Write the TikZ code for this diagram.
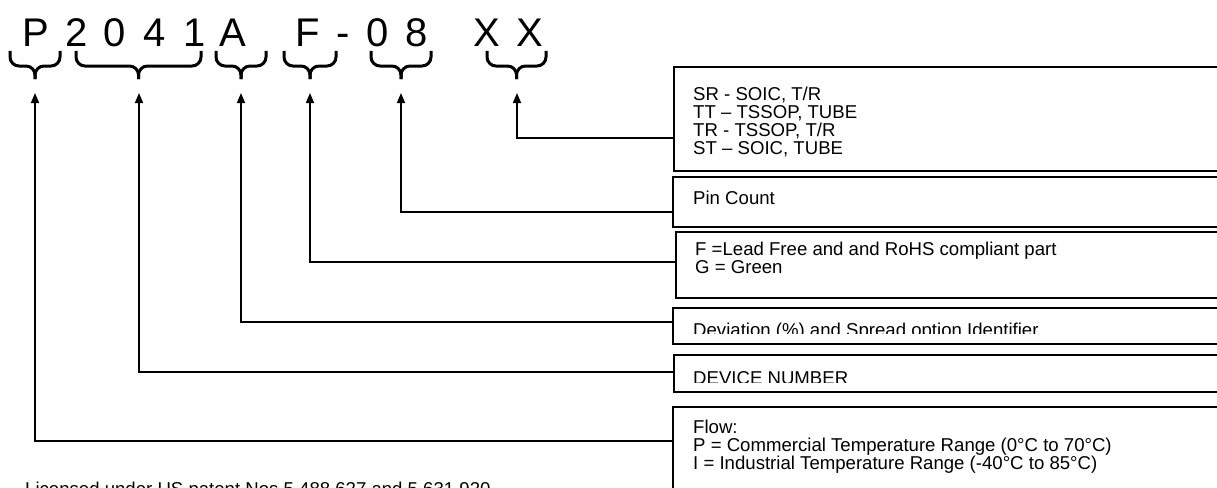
\documentclass[tikz,border=0pt]{standalone}
\usepackage{fontspec}
\setmainfont{Liberation Sans}
\usetikzlibrary{arrows.meta}
\tikzset{
  boxnode/.style={draw, line width=1.8pt, anchor=north west, minimum width=600pt, inner sep=0pt},
  conn/.style={line width=1.6pt, -{Triangle[length=10pt,width=8pt]}},
  bracestyle/.style={line width=3pt, rounded corners=9pt},
  boxtxt/.style={anchor=base west, inner sep=0pt, font=\fontsize{18.6}{22}\selectfont},
  titlechar/.style={anchor=base, inner sep=0pt, font=\fontsize{40}{48}\selectfont}
}
\newcommand\mybrace[2]{%
  \draw[bracestyle] (#1,51) -- (#1,66) -- ({(#1+#2)/2},66) -- ({(#1+#2)/2},79);
  \draw[bracestyle] (#2,51) -- (#2,66) -- ({(#1+#2)/2},66) -- ({(#1+#2)/2},79);}
\begin{document}
\begin{tikzpicture}[x=1pt,y=-1pt]
\useasboundingbox (0,0) rectangle (1217,487);
\clip (0,0) rectangle (1217,487);
% title characters
\node[titlechar] (cP) at (36,47) {P};
\node[titlechar] (c2) at (77,47) {2};
\node[titlechar] (c0) at (115,47) {0};
\node[titlechar] (c4) at (155,47) {4};
\node[titlechar] (c1) at (195,47) {1};
\node[titlechar] (cA) at (233,47) {A};
\node[titlechar] (cF) at (308,47) {F};
\node[titlechar] (cH) at (343,47) {-};
\node[titlechar] (cz) at (378,47) {0};
\node[titlechar] (c8) at (417,47) {8};
\node[titlechar] (cX) at (487,47) {X};
\node[titlechar] (cY) at (530,47) {X};
% braces
\mybrace{10}{60}
\mybrace{76}{201}
\mybrace{216}{266}
\mybrace{284}{336}
\mybrace{371}{431}
\mybrace{487}{546}
% boxes
\node[boxnode, minimum height=104pt] (b1) at (673,66) {};
\node[boxnode, minimum height=50pt] (b2) at (672,176) {};
\node[boxnode, minimum height=66pt] (b3) at (675,231) {};
\node[boxnode, minimum height=36pt] (b4) at (672,307) {};
\node[boxnode, minimum height=37pt] (b5) at (673,354) {};
\node[boxnode, minimum height=120pt] (b6) at (672,406) {};
% box texts
\node[boxtxt] (t11) at (693,100) {SR - SOIC, T/R};
\node[boxtxt] (t12) at (693,118) {TT – TSSOP, TUBE};
\node[boxtxt] (t13) at (693,136) {TR - TSSOP, T/R};
\node[boxtxt] (t14) at (693,154) {ST – SOIC, TUBE};
\node[boxtxt] (t21) at (693,204) {Pin Count};
\node[boxtxt] (t31) at (695,255) {F =Lead Free and and RoHS compliant part};
\node[boxtxt] (t32) at (695,273) {G = Green};
\begin{scope}
\clip (680,310) rectangle (1217,333);
\node[boxtxt] (t41) at (693,336) {Deviation (\%) and Spread option Identifier};
\end{scope}
\begin{scope}
\clip (680,357) rectangle (1217,382);
\node[boxtxt] (t51) at (693,384.5) {DEVICE NUMBER};
\end{scope}
\node[boxtxt] (t61) at (693,433) {Flow:};
\node[boxtxt] (t62) at (693,451) {P = Commercial Temperature Range (0°C to 70°C)};
\node[boxtxt] (t63) at (693,469) {I = Industrial Temperature Range (-40°C to 85°C)};
\node[boxtxt] (lic) at (25,495) {Licensed under US patent Nos 5,488,627 and 5,631,920};
% connectors
\coordinate (a1) at (517,93);
\coordinate (a2) at (401,93);
\coordinate (a3) at (310,93);
\coordinate (a4) at (241,93);
\coordinate (a5) at (139,93);
\coordinate (a6) at (35,93);
\coordinate (e1) at (b1.west |- 0,138);
\coordinate (e2) at (b2.west |- 0,212);
\coordinate (e3) at (b3.west |- 0,262);
\coordinate (e4) at (b4.west |- 0,322);
\coordinate (e5) at (b5.west |- 0,372);
\coordinate (e6) at (b6.west |- 0,441);
\draw[conn] (e1) -| (a1);
\draw[conn] (e2) -| (a2);
\draw[conn] (e3) -| (a3);
\draw[conn] (e4) -| (a4);
\draw[conn] (e5) -| (a5);
\draw[conn] (e6) -| (a6);
\end{tikzpicture}
\end{document}
